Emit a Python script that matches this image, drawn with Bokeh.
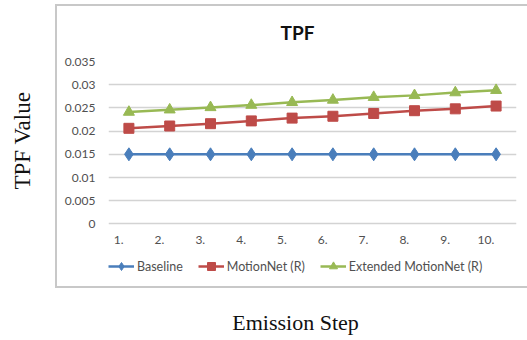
from bokeh.plotting import figure
from bokeh.models import (Range1d, FixedTicker, Legend, LegendItem, Label)
from bokeh.embed import file_html
from bokeh.resources import INLINE

# ---- data ----
steps = [1, 2, 3, 4, 5, 6, 7, 8, 9, 10]
step_labels = ["1.", "2.", "3.", "4.", "5.", "6.", "7.", "8.", "9.", "10."]
baseline = [0.015, 0.015, 0.015, 0.015, 0.015, 0.015, 0.015, 0.015, 0.015, 0.015]
motionnet = [0.0206, 0.0211, 0.0216, 0.0222, 0.0228, 0.0232, 0.0238, 0.0244, 0.0248, 0.0254]
extended = [0.0241, 0.0246, 0.0251, 0.0256, 0.0262, 0.0267, 0.0273, 0.0277, 0.0283, 0.0288]
y_ticks = [0, 0.005, 0.01, 0.015, 0.02, 0.025, 0.03, 0.035]
y_tick_labels = ["0", "0.005", "0.01", "0.015", "0.02", "0.025", "0.03", "0.035"]
series_names = ["Baseline", "MotionNet (R)", "Extended MotionNet (R)"]
x_title = "Emission Step"
y_title = "TPF Value"
chart_title = "TPF"

BLUE = "#4a7ebb"
RED = "#be4b48"
GREEN = "#98b954"
TICK_FONT = "Lato"
BOX = "#c8c8c8"

# layout: plot frame spans from the top gridline down to the bottom of the page,
# value axis occupies the upper 163 px of it; legend and axis title live below.
W, H = 527, 340
TOP, LEFT, RIGHT = 60, 108, 11
FRAME_H = H - TOP
VALUE_H = 163
y_max = max(y_ticks)
y_min = -y_max * (FRAME_H - VALUE_H) / VALUE_H

p = figure(width=W, height=H, output_backend="svg", toolbar_location=None,
           x_range=Range1d(0.5, 10.5), y_range=Range1d(y_min, y_max),
           min_border_left=LEFT, min_border_right=RIGHT, min_border_top=TOP, min_border_bottom=0)
p.outline_line_color = None
p.background_fill_color = None
p.border_fill_color = None

# chart-area box, drawn as the figure's CSS background
p.styles = {
    "background": (
        f"linear-gradient({BOX},{BOX}) 55px 5px / 2px 283px no-repeat, "
        f"linear-gradient({BOX},{BOX}) 55px 4px / 480px 2px no-repeat, "
        f"linear-gradient({BOX},{BOX}) 55px 286px / 480px 2px no-repeat, "
        "white"
    )
}

# title
p.title.text = chart_title
p.title.align = "left"
p.title.offset = 172
p.title.text_font = TICK_FONT
p.title.text_font_style = "bold"
p.title.text_font_size = "19px"
p.title.text_color = "#111111"
p.title.standoff = 36

# grid
p.xgrid.grid_line_color = None
p.ygrid.grid_line_color = "#d3d3d3"
p.ygrid.grid_line_width = 1.5

# y axis
p.yaxis.ticker = FixedTicker(ticks=y_ticks)
p.yaxis.major_label_overrides = {t: l for t, l in zip(y_ticks, y_tick_labels)}
p.yaxis.axis_line_color = None
p.yaxis.major_tick_line_color = None
p.yaxis.minor_tick_line_color = None
p.yaxis.major_tick_in = 0
p.yaxis.major_tick_out = 0
p.yaxis.major_label_standoff = 13
p.yaxis.major_label_text_font = TICK_FONT
p.yaxis.major_label_text_font_size = "12px"
p.yaxis.major_label_text_color = "#505050"
# the axis title is centred on the (taller) frame; leading no-break spaces lift it
# to the middle of the value area, where the reference shows it
p.yaxis.axis_label = "\u00a0" * 21 + y_title
p.yaxis.axis_label_text_font = "Liberation Serif"
p.yaxis.axis_label_text_font_style = "normal"
p.yaxis.axis_label_text_font_size = "23px"
p.yaxis.axis_label_text_color = "#111111"
p.yaxis.axis_label_standoff = 27

# x axis, pinned to the value 0 inside the frame
x_tick_pos = [s - 0.25 for s in steps]
p.xaxis.fixed_location = 0
p.xaxis.ticker = FixedTicker(ticks=x_tick_pos)
p.xaxis.major_label_overrides = {t: l for t, l in zip(x_tick_pos, step_labels)}
p.xaxis.axis_line_color = None
p.xaxis.major_tick_line_color = None
p.xaxis.minor_tick_line_color = None
p.xaxis.major_tick_in = 0
p.xaxis.major_tick_out = 0
p.xaxis.major_label_standoff = 12
p.xaxis.major_label_text_font = TICK_FONT
p.xaxis.major_label_text_font_size = "12px"
p.xaxis.major_label_text_color = "#505050"

# series
r1l = p.line(steps, baseline, line_color=BLUE, line_width=2.5)
r1m = p.scatter(steps, baseline, marker="diamond", size=13, fill_color=BLUE, line_color=BLUE)
r2l = p.line(steps, motionnet, line_color=RED, line_width=2.5)
r2m = p.scatter(steps, motionnet, marker="square", size=10, fill_color=RED, line_color=RED)
r3l = p.line(steps, extended, line_color=GREEN, line_width=2.5)
r3m = p.scatter(steps, extended, marker="triangle", size=11, fill_color=GREEN, line_color=GREEN)

legend = Legend(items=[
    LegendItem(label=series_names[0], renderers=[r1l, r1m]),
    LegendItem(label=series_names[1], renderers=[r2l, r2m]),
    LegendItem(label=series_names[2], renderers=[r3l, r3m]),
], orientation="horizontal", location=(0, 64))
legend.border_line_color = None
legend.background_fill_alpha = 0
legend.label_text_font = TICK_FONT
legend.label_text_font_size = "12.5px"
legend.label_text_color = "#505050"
legend.glyph_width = 26
legend.label_standoff = 3
legend.spacing = 15
legend.padding = 0
legend.margin = 0
p.add_layout(legend, "center")

xlabel = Label(x=187, y=18, x_units="screen", y_units="screen", text=x_title,
               text_font="Liberation Serif", text_font_size="22px", text_color="#111111",
               text_align="center", text_baseline="middle")
p.add_layout(xlabel)

open("out.html", "w").write(file_html(p, INLINE))
